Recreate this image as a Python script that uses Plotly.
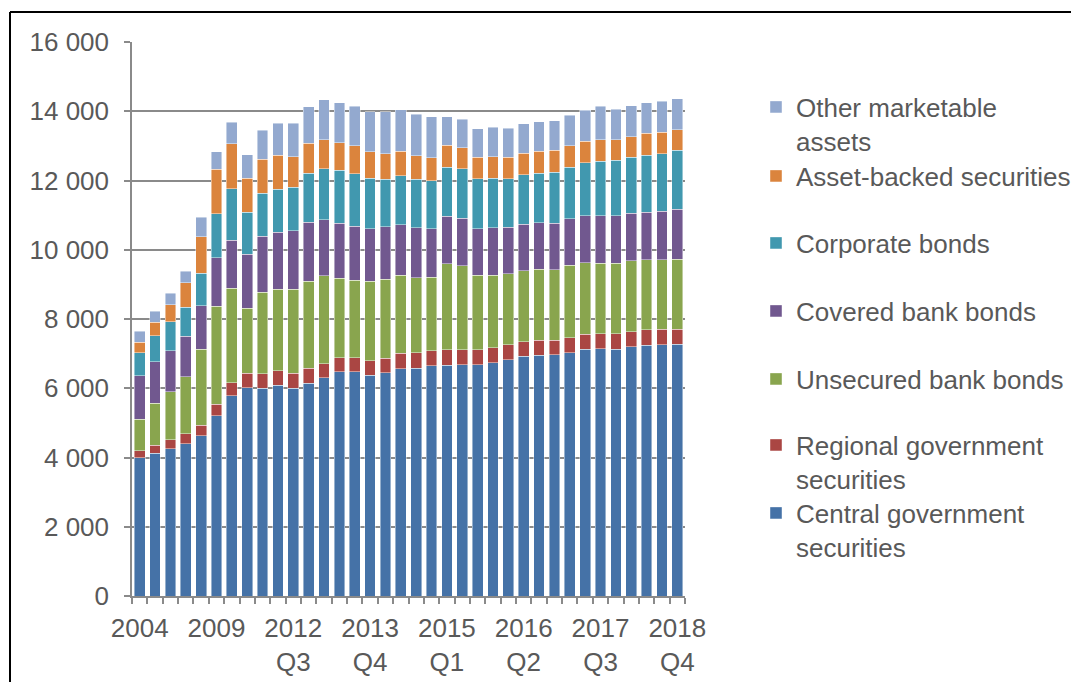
import plotly.graph_objects as go

# Reporting periods: annual to 2011, quarterly from 2012
categories = ["2004", "2005", "2006", "2007", "2008", "2009", "2010", "2011"] + [
    f"{y} Q{q}" for y in range(2012, 2019) for q in range(1, 5)
]

# EUR billions by asset type
central_gov = [3990, 4130, 4250, 4400, 4625, 5200, 5780, 6020, 6005, 6090, 6005, 6140,
               6300, 6475, 6475, 6370, 6455, 6570, 6580, 6650, 6660, 6675, 6675, 6735,
               6830, 6920, 6955, 6965, 7025, 7120, 7140, 7130, 7195, 7245, 7255, 7265]
regional_gov = [210, 225, 270, 280, 310, 340, 385, 415, 410, 415, 430, 440,
                405, 405, 405, 420, 415, 435, 445, 430, 450, 435, 435, 430,
                425, 420, 435, 425, 430, 435, 430, 450, 435, 445, 445, 435]
unsecured_bank = [910, 1205, 1375, 1650, 2195, 2825, 2730, 1880, 2355, 2360, 2430, 2515,
                  2545, 2290, 2245, 2295, 2285, 2255, 2165, 2130, 2485, 2425, 2150, 2105,
                  2050, 2055, 2050, 2030, 2095, 2070, 2045, 2035, 2050, 2020, 2010, 2030]
covered_bank = [1250, 1200, 1185, 1175, 1250, 1405, 1385, 1550, 1615, 1635, 1685, 1695,
                1615, 1590, 1550, 1520, 1510, 1460, 1445, 1395, 1370, 1370, 1345, 1365,
                1340, 1345, 1340, 1340, 1345, 1350, 1360, 1360, 1370, 1370, 1400, 1445]
corporate = [660, 755, 840, 830, 945, 1270, 1480, 1215, 1245, 1245, 1255, 1415,
             1475, 1535, 1520, 1455, 1370, 1420, 1400, 1390, 1415, 1435, 1445, 1425,
             1405, 1425, 1425, 1475, 1485, 1540, 1580, 1610, 1620, 1645, 1665, 1705]
asset_backed = [310, 385, 490, 710, 1050, 1285, 1305, 980, 980, 980, 880, 870,
                840, 795, 810, 770, 740, 705, 680, 665, 635, 605, 620, 625,
                620, 620, 645, 635, 625, 615, 625, 595, 595, 640, 615, 585]
other_marketable = [310, 320, 330, 340, 570, 505, 615, 685, 840, 925, 965, 1055,
                    1155, 1160, 1145, 1160, 1215, 1200, 1205, 1185, 820, 820, 820, 850,
                    845, 855, 850, 850, 880, 905, 965, 885, 895, 875, 895, 900]

# Stack order (bottom to top): name, values, colour, legend id, legend y (px)
series = [
    ("Central government<br>securities", central_gov, "#4572A7", "legend7", 530),
    ("Regional government<br>securities", regional_gov, "#AA4643", "legend6", 462),
    ("Unsecured bank bonds", unsecured_bank, "#89A54E", "legend5", 379),
    ("Covered bank bonds", covered_bank, "#71588F", "legend4", 311),
    ("Corporate bonds", corporate, "#4198AF", "legend3", 243),
    ("Asset-backed securities", asset_backed, "#DB843D", "legend2", 176),
    ("Other marketable<br>assets", other_marketable, "#93A9CF", "legend", 124),
]

W, H = 1071, 682
ML, MR, MT, MB = 132, 386, 42, 86
PW, PH = W - ML - MR, H - MT - MB


def px_x(p):
    return (p - ML) / PW


def px_y(p):
    return (H - MB - p) / PH


TEXT = "#595959"
GRID = "#8a8a8a"
FONT = "Liberation Sans, Arial, sans-serif"

fig = go.Figure()
layout_legends = {}
for name, vals, color, leg, ly in series:
    fig.add_trace(go.Bar(
        x=categories, y=vals, name=name, legend=leg,
        marker=dict(color=color, line=dict(color="rgba(255,255,255,0.55)", width=0.8)),
    ))
    layout_legends[leg] = dict(
        x=px_x(756), xanchor="left", y=px_y(ly), yanchor="middle",
        valign="top", bgcolor="rgba(0,0,0,0)",
        font=dict(family=FONT, size=26, color=TEXT),
        itemclick=False, itemdoubleclick=False,
    )

tick_text = []
for i, c in enumerate(categories):
    if i % 5 == 0:
        tick_text.append(c.replace(" ", "<br>"))
    else:
        tick_text.append("")

fig.update_layout(
    barmode="stack",
    bargap=0.30,
    width=W, height=H,
    margin=dict(l=ML, r=MR, t=MT, b=MB, autoexpand=False),
    paper_bgcolor="white",
    plot_bgcolor="white",
    separators=", ",
    font=dict(family=FONT, size=26, color=TEXT),
    showlegend=True,
    **layout_legends,
)

fig.update_xaxes(
    type="category",
    tickmode="array", tickvals=categories, ticktext=tick_text,
    tickson="boundaries", ticks="outside", ticklen=6, tickwidth=1.5, tickcolor=GRID,
    showline=True, linecolor=GRID, linewidth=1.5,
    showgrid=False, tickangle=0, ticklabelstandoff=8,
    tickfont=dict(family=FONT, size=26, color=TEXT),
)
fig.update_yaxes(
    range=[0, 16000], dtick=2000, tickformat=",d",
    ticks="outside", ticklen=6, tickwidth=1.5, tickcolor=GRID,
    showline=True, linecolor=GRID, linewidth=1.5,
    showgrid=True, gridcolor=GRID, gridwidth=1.5,
    zeroline=False, ticklabelstandoff=10,
    tickfont=dict(family=FONT, size=26, color=TEXT),
)

# Frame around the exhibit (top and left edges)
fig.add_shape(type="line", xref="paper", yref="paper",
              x0=px_x(10), x1=px_x(W + 5), y0=px_y(12), y1=px_y(12),
              line=dict(color="black", width=2))
fig.add_shape(type="line", xref="paper", yref="paper",
              x0=px_x(10), x1=px_x(10), y0=px_y(12), y1=px_y(H + 5),
              line=dict(color="black", width=2))

fig.write_html("out.html")
